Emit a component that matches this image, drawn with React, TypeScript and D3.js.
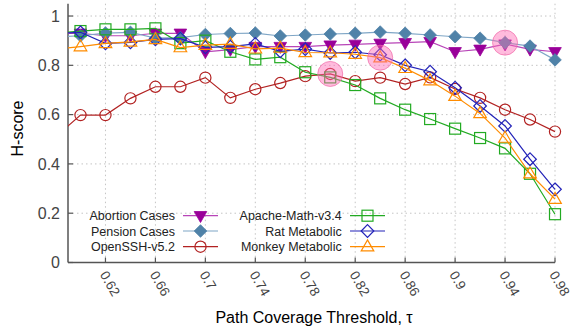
import React from 'react';
import * as d3 from 'd3';

// Path coverage thresholds (0.58 lies just outside the visible axis and is clipped)
const thresholds = [0.58, 0.6, 0.62, 0.64, 0.66, 0.68, 0.7, 0.72, 0.74, 0.76, 0.78, 0.8, 0.82, 0.84, 0.86, 0.88, 0.9, 0.92, 0.94, 0.96, 0.98];

const abortionCases = [0.93, 0.93, 0.92, 0.92, 0.93, 0.93, 0.855, 0.864, 0.876, 0.876, 0.876, 0.882, 0.885, 0.889, 0.892, 0.896, 0.855, 0.865, 0.886, 0.865, 0.855];
const pensionCases = [0.915, 0.92, 0.931, 0.934, 0.91, 0.912, 0.925, 0.929, 0.931, 0.919, 0.923, 0.927, 0.93, 0.935, 0.93, 0.923, 0.916, 0.91, 0.892, 0.878, 0.822];
const openSSH = [0.51, 0.598, 0.598, 0.666, 0.713, 0.713, 0.75, 0.668, 0.703, 0.728, 0.756, 0.765, 0.736, 0.75, 0.724, 0.751, 0.704, 0.668, 0.62, 0.58, 0.531];
const apacheMath = [0.93, 0.939, 0.946, 0.946, 0.95, 0.89, 0.9, 0.855, 0.824, 0.833, 0.772, 0.751, 0.72, 0.666, 0.62, 0.582, 0.543, 0.505, 0.463, 0.36, 0.196];
const ratMetabolic = [0.93, 0.934, 0.889, 0.893, 0.905, 0.908, 0.873, 0.876, 0.887, 0.857, 0.866, 0.85, 0.853, 0.843, 0.8, 0.774, 0.709, 0.635, 0.554, 0.419, 0.297];
const monkeyMetabolic = [0.865, 0.876, 0.889, 0.895, 0.905, 0.872, 0.882, 0.886, 0.867, 0.87, 0.852, 0.851, 0.845, 0.831, 0.788, 0.738, 0.675, 0.605, 0.505, 0.36, 0.257];

const seriesNames = ['Abortion Cases', 'Pension Cases', 'OpenSSH-v5.2', 'Apache-Math-v3.4', 'Rat Metabolic', 'Monkey Metabolic'];
const seriesValues = [abortionCases, pensionCases, openSSH, apacheMath, ratMetabolic, monkeyMetabolic];

const xTicks = [0.62, 0.66, 0.7, 0.74, 0.78, 0.82, 0.86, 0.9, 0.94, 0.98];
const xTickLabels = ['0.62', '0.66', '0.7', '0.74', '0.78', '0.82', '0.86', '0.9', '0.94', '0.98'];
const yTicks = [0, 0.2, 0.4, 0.6, 0.8, 1];
const yTickLabels = ['0', '0.2', '0.4', '0.6', '0.8', '1'];

// Highlighted (best) thresholds
const highlightSeries = ['OpenSSH-v5.2', 'Monkey Metabolic', 'Pension Cases'];
const highlightThresholds = [0.8, 0.84, 0.94];

const styles = [
  { line: '#b845b8', marker: '#990099', shape: 'triDown', filled: true },
  { line: '#7fa6c6', marker: '#4f82a8', shape: 'diamond', filled: true },
  { line: '#b22222', marker: '#b22222', shape: 'circle', filled: false },
  { line: '#22aa22', marker: '#22aa22', shape: 'square', filled: false },
  { line: '#2323b8', marker: '#2323b8', shape: 'diamond', filled: false },
  { line: '#ff8c00', marker: '#ff8c00', shape: 'triUp', filled: false },
];

function Marker({ shape, cx, cy, color, filled }: { shape: string; cx: number; cy: number; color: string; filled: boolean }) {
  const fill = filled ? color : 'none';
  const sw = filled ? 0.8 : 1.2;
  if (shape === 'circle') return <circle cx={cx} cy={cy} r={5.6} fill={fill} stroke={color} strokeWidth={sw} />;
  if (shape === 'square') return <rect x={cx - 5.5} y={cy - 5.5} width={11} height={11} fill={fill} stroke={color} strokeWidth={sw} />;
  let d = '';
  if (shape === 'diamond') d = `M${cx},${cy - 6.3}L${cx + 6.3},${cy}L${cx},${cy + 6.3}L${cx - 6.3},${cy}Z`;
  if (shape === 'triUp') d = `M${cx},${cy - 6.8}L${cx + 6.3},${cy + 4.2}L${cx - 6.3},${cy + 4.2}Z`;
  if (shape === 'triDown') d = `M${cx - 6.3},${cy - 4.2}L${cx + 6.3},${cy - 4.2}L${cx},${cy + 6.8}Z`;
  return <path d={d} fill={fill} stroke={color} strokeWidth={sw} />;
}

export default function App() {
  const W = 571, H = 329;
  const x = d3.scaleLinear().domain([0.59, 0.98]).range([68, 555]);
  const y = d3.scaleLinear().domain([0, 1.05]).range([262.5, 3.7]);
  const [x0, x1] = x.range();
  const [y0, y1] = y.range();
  const font = 'Arial, "Liberation Sans", sans-serif';

  const line = d3.line<number>().x((_, i) => x(thresholds[i])).y((d) => y(d));

  const legendRows = [0, 1, 2];
  const legendCols = [
    { textX: 175, lineX0: 183, lineX1: 218 },
    { textX: 341.7, lineX0: 350, lineX1: 385 },
  ];
  const legendY = [215.7, 231, 246.7];

  return (
    <svg width={W} height={H} style={{ position: 'absolute', left: 0, top: 0, background: '#fff' }} fontFamily={font}>
      <defs>
        <clipPath id="plotClip">
          <rect x={x0} y={0} width={x1 - x0 + 8} height={y0} />
        </clipPath>
      </defs>
      {/* grid */}
      {yTicks.filter((t) => t > 0).map((t) => (
        <line key={'gy' + t} x1={x0} x2={x1} y1={y(t)} y2={y(t)} stroke="#c4c4c4" strokeWidth={1} strokeDasharray="1.5,3" />
      ))}
      {xTicks.map((t) => (
        <line key={'gx' + t} x1={x(t)} x2={x(t)} y1={y1} y2={y0} stroke="#c4c4c4" strokeWidth={1} strokeDasharray="1.5,3" />
      ))}
      {/* axes */}
      <line x1={x0} x2={x0} y1={y1} y2={y0} stroke="#555" strokeWidth={1.5} />
      <line x1={x0} x2={x1} y1={y0} y2={y0} stroke="#555" strokeWidth={1.5} />
      {yTicks.map((t, i) => (
        <g key={'yt' + t}>
          <line x1={x0} x2={x0 + 5} y1={y(t)} y2={y(t)} stroke="#555" strokeWidth={1.2} />
          <text x={60} y={y(t)} dy="0.36em" textAnchor="end" fontSize={16} fill="#444">{yTickLabels[i]}</text>
        </g>
      ))}
      {xTicks.map((t, i) => (
        <g key={'xt' + t}>
          <line x1={x(t)} x2={x(t)} y1={y0} y2={y0 - 5} stroke="#555" strokeWidth={1.2} />
          <text transform={`translate(${x(t) - 6},${y0 + 12}) rotate(60)`} textAnchor="start" fontSize={13.5} fill="#444">{xTickLabels[i]}</text>
        </g>
      ))}
      <text x={314} y={323} textAnchor="middle" fontSize={16} fill="#000">Path Coverage Threshold, τ</text>
      <text transform="translate(23,128.5) rotate(-90)" textAnchor="middle" fontSize={16} fill="#000">H-score</text>

      {/* series */}
      <g clipPath="url(#plotClip)">
        {seriesValues.map((vals, si) => (
          <g key={seriesNames[si]}>
            <path d={line(vals) || ''} fill="none" stroke={styles[si].line} strokeWidth={1.2} />
            {vals.map((v, i) =>
              thresholds[i] >= x.domain()[0] ? (
                <Marker key={i} shape={styles[si].shape} cx={x(thresholds[i])} cy={y(v)} color={styles[si].marker} filled={styles[si].filled} />
              ) : null
            )}
          </g>
        ))}
      </g>

      {/* highlights */}
      {highlightSeries.map((name, hi) => {
        const si = seriesNames.indexOf(name);
        const idx = thresholds.findIndex((t) => Math.abs(t - highlightThresholds[hi]) < 1e-9);
        return (
          <circle key={'h' + hi} cx={x(thresholds[idx])} cy={y(seriesValues[si][idx])} r={12.5} fill="#ff69b4" fillOpacity={0.45} stroke="#f06aa8" strokeOpacity={0.7} strokeWidth={1} />
        );
      })}

      {/* legend */}
      {seriesNames.map((name, si) => {
        const col = legendCols[Math.floor(si / 3)];
        const row = legendRows[si % 3];
        const ly = legendY[row];
        return (
          <g key={'lg' + name}>
            <text x={col.textX} y={ly} dy="0.36em" textAnchor="end" fontSize={12.5} fill="#222">{name}</text>
            <line x1={col.lineX0} x2={col.lineX1} y1={ly} y2={ly} stroke={styles[si].line} strokeWidth={1.2} />
            <Marker shape={styles[si].shape} cx={(col.lineX0 + col.lineX1) / 2} cy={ly} color={styles[si].marker} filled={styles[si].filled} />
          </g>
        );
      })}
    </svg>
  );
}
